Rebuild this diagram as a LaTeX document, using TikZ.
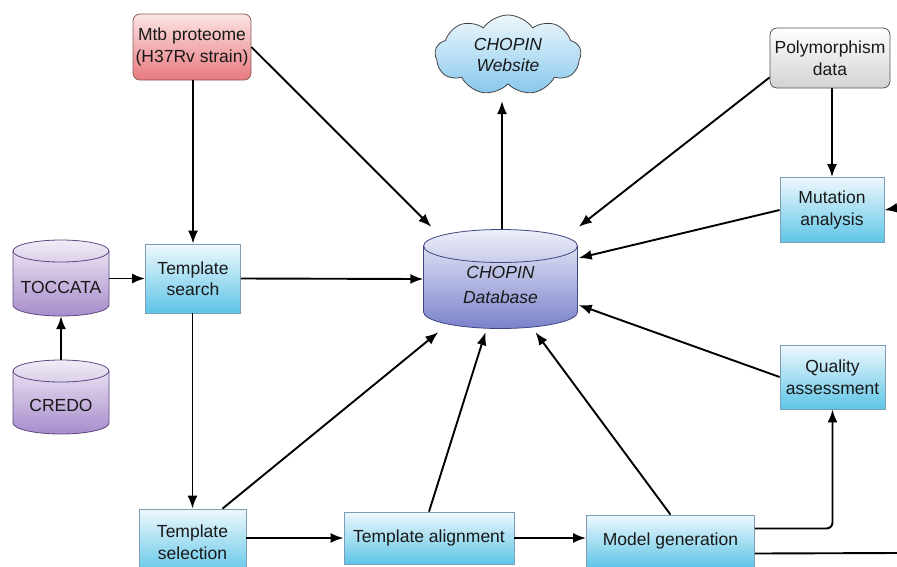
\documentclass[tikz,border=0pt]{standalone}
\usepackage{fontspec}
\setmainfont{Liberation Sans}
\usetikzlibrary{shapes.symbols,arrows.meta,calc}
\definecolor{bluetop}{HTML}{EEF8FC}
\definecolor{bluebot}{HTML}{5EC5E7}
\definecolor{boxline}{HTML}{7C9DB5}
\definecolor{redtop}{HTML}{FCE4E4}
\definecolor{redbot}{HTML}{E8797E}
\definecolor{redline}{HTML}{8C5A5A}
\definecolor{graytop}{HTML}{FFFFFF}
\definecolor{graybot}{HTML}{D2D2D2}
\definecolor{grayline}{HTML}{555555}
\definecolor{cloudtop}{HTML}{EEF7FC}
\definecolor{cloudbot}{HTML}{86C8EC}
\definecolor{cloudline}{HTML}{444444}
\definecolor{purptop}{HTML}{F1ECF7}
\definecolor{purpbot}{HTML}{A78CCB}
\definecolor{purpline}{HTML}{5E4780}
\definecolor{dbtop}{HTML}{EEF0FA}
\definecolor{dbbot}{HTML}{7B82CB}
\definecolor{dbline}{HTML}{3F4580}
\tikzset{
  lbl/.style={font=\fontsize{17.5}{21.5}\selectfont, align=center, inner sep=0pt, text=black!90},
  box/.style={lbl, draw=boxline, line width=0.8pt, top color=bluetop, bottom color=bluebot},
  redbox/.style={lbl, draw=redline, line width=0.8pt, rounded corners=7pt, top color=redtop, bottom color=redbot},
  graybox/.style={lbl, draw=grayline, line width=0.8pt, rounded corners=7pt, top color=graytop, bottom color=graybot},
  purpcyl/.style={draw=purpline, line width=0.8pt, top color=purptop, bottom color=purpbot},
  dbcyl/.style={draw=dbline, line width=0.8pt, top color=dbtop, bottom color=dbbot},
  conn/.style={line width=1.9pt, -{Latex[length=13pt,width=10pt]}},
  plain/.style={line width=1.9pt},
}
\begin{document}
\begin{tikzpicture}[x=1pt,y=1pt]
\useasboundingbox (0,0) rectangle (897,-566);
\clip (0,0) rectangle (897,-566);
\fill[white] (0,0) rectangle (897,-566);

% cylinders (drawn directly)
\path[purpcyl] (13,-251) -- (13,-305) arc[start angle=180,end angle=360,x radius=48pt,y radius=11pt]
  -- (109,-251) arc[start angle=0,end angle=180,x radius=48pt,y radius=11pt] -- cycle;
\draw[purpline,line width=0.8pt] (13,-251) arc[start angle=180,end angle=360,x radius=48pt,y radius=11pt];
\path[purpcyl] (13,-371) -- (13,-423) arc[start angle=180,end angle=360,x radius=48pt,y radius=11pt]
  -- (109,-371) arc[start angle=0,end angle=180,x radius=48pt,y radius=11pt] -- cycle;
\draw[purpline,line width=0.8pt] (13,-371) arc[start angle=180,end angle=360,x radius=48pt,y radius=11pt];
\path[dbcyl] (423.5,-246) -- (423.5,-312) arc[start angle=180,end angle=360,x radius=77pt,y radius=16.5pt]
  -- (577.5,-246) arc[start angle=0,end angle=180,x radius=77pt,y radius=16.5pt] -- cycle;
\draw[dbline,line width=0.8pt] (423.5,-246) arc[start angle=180,end angle=360,x radius=77pt,y radius=16.5pt];

% named nodes for cylinders
\node[inner sep=0pt, minimum width=96pt, minimum height=76pt] (toc) at (61,-278) {};
\node[lbl] (toctext) at (61,-287) {TOCCATA};
\node[inner sep=0pt, minimum width=96pt, minimum height=74pt] (credo) at (61,-397) {};
\node[lbl] (credotext) at (61,-405) {CREDO};
\node[inner sep=0pt, minimum width=154pt, minimum height=100pt] (db) at (500.5,-279) {};
\node[lbl, font=\fontsize{17.5}{25}\selectfont\itshape] (dbtext) at (500.5,-285) {CHOPIN\\Database};

% boxes
\node[redbox, minimum width=118pt, minimum height=66pt] (mtb) at (192,-47) {Mtb proteome\\(H37Rv strain)};
\node[cloud, cloud puffs=9, cloud puff arc=110, aspect=1.9, draw=cloudline, line width=0.8pt, top color=cloudtop, bottom color=cloudbot,
      minimum width=146pt, minimum height=80pt, inner sep=0pt, align=center,
      font=\fontsize{17.5}{21.5}\selectfont\itshape, text=black!90] (web) at (508,-55) {CHOPIN\\Website};
\node[graybox, minimum width=120pt, minimum height=60pt] (poly) at (830,-58) {Polymorphism\\data};
\node[box, minimum width=104pt, minimum height=65pt] (mut) at (832,-210) {Mutation\\analysis};
\node[box, minimum width=95pt, minimum height=69pt] (ts) at (193,-278.5) {Template\\search};
\node[box, minimum width=105pt, minimum height=64pt] (qa) at (832.5,-377) {Quality\\assessment};
\node[box, minimum width=107pt, minimum height=66pt] (tsel) at (192.5,-542) {Template\\selection};
\node[box, minimum width=170pt, minimum height=52pt] (tal) at (429,-538) {Template alignment};
\node[box, minimum width=168pt, minimum height=52pt] (mg) at (670.5,-541) {Model generation};

\coordinate (inR) at (897,-208);
\coordinate (outR) at (897,-553);

% connectors
\draw[conn] (mtb.south -| ts.north) -- (ts.north);
\draw[conn] (mtb.east) -- ($(db.north west)+(8,2)$);
\draw[conn] (db.north -| 502,0) -- (502,-101);
\draw[conn] ($(poly.south west)+(0,11)$) -- ($(db.north east)+(1,2)$);
\draw[conn] (poly.south -| mut.north) -- (mut.north);
\draw[conn] (mut.west) -- ($(db.east)+(1,21)$);
\draw[conn] (inR) -- (mut.east);
\draw[conn] (toc.east |- ts.west) -- (ts.west);
\draw[conn] (credo.north) -- (toc.south);
\draw[conn] (ts.east) -- (db.west);
\draw[conn] (ts.south -| tsel.north) -- (tsel.north);
\draw[conn] ($(tsel.north)+(30,0)$) -- ($(db.south west)+(15,-3)$);
\draw[conn] (tsel.east |- tal.west) -- (tal.west);
\draw[conn] (tal.north) -- ($(db.south)+(-15,-3)$);
\draw[conn] (tal.east) -- (tal.east -| mg.west);
\draw[conn] (mg.north) -- ($(db.south)+(35,-3)$);
\draw[conn, rounded corners=6pt] ($(mg.east)+(0,12.5)$) -| (qa.south);
\draw[conn] (qa.west) -- ($(db.east)+(1,-26)$);
\draw[plain] ($(mg.east)+(0,-12.5)$) -- (outR);
\end{tikzpicture}
\end{document}
